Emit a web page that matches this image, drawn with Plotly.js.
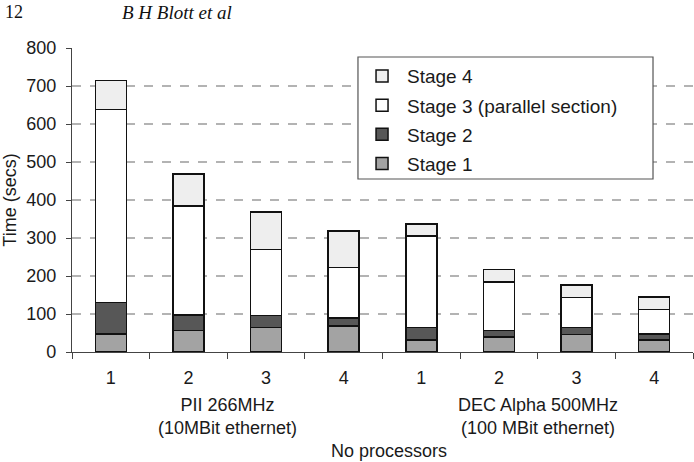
<!DOCTYPE html>
<html>
<head>
<meta charset="utf-8">
<script src="https://cdn.plot.ly/plotly-3.0.1.min.js"></script>
<style>
  html, body { margin: 0; padding: 0; background: #fff; }
  #chart { width: 694px; height: 462px; }
</style>
</head>
<body>
<div id="chart"></div>
<script>
// Run keys: machine + processor count (unique), labels shown on the axis
const runs = ["PII-1", "PII-2", "PII-3", "PII-4", "DEC-1", "DEC-2", "DEC-3", "DEC-4"];
const procLabels = ["1", "2", "3", "4", "1", "2", "3", "4"];

// Time per stage (secs)
const stage1 = [48, 56, 65, 69, 31, 40, 46, 32];
const stage2 = [82, 41, 31, 20, 33, 17, 18, 16];
const stage3 = [508, 287, 174, 133, 241, 127, 80, 64];
const stage4 = [76, 84, 99, 96, 32, 33, 32, 33];

const stageNames = ["Stage 1", "Stage 2", "Stage 3 (parallel section)", "Stage 4"];
const stageColors = ["#a3a3a3", "#575757", "#ffffff", "#eeeeee"];

const machineGroups = ["PII 266MHz<br>(10MBit ethernet)", "DEC Alpha 500MHz<br>(100 MBit ethernet)"];
const groupCenters = [1.5, 5.5];

const baseFont = "'Liberation Sans', Arial, sans-serif";

const series = [stage1, stage2, stage3, stage4];
const traces = series.map((vals, i) => ({
  type: "bar",
  x: runs,
  y: vals,
  name: stageNames[i],
  legendgroup: "g" + i,
  legendrank: series.length - i,   // top stage listed first
  marker: { color: stageColors[i], line: { color: "#111", width: 1.5 } },
  width: 0.4,
  hoverinfo: "y+name"
}));

const annotations = machineGroups.map((t, i) => ({
  text: t,
  xref: "x", yref: "paper",
  x: groupCenters[i], y: 0,
  yshift: -41, yanchor: "top",
  showarrow: false,
  font: { family: baseFont, size: 18, color: "#1a1a1a" },
  align: "center"
}));

annotations.push({
  text: "No processors",
  xref: "paper", yref: "paper",
  x: 0.51, y: 0, yshift: -87, yanchor: "top",
  showarrow: false,
  font: { family: baseFont, size: 18, color: "#1a1a1a" }
});

// Running page header
annotations.push({
  text: "12",
  xref: "paper", yref: "paper",
  x: 0, xshift: -69, xanchor: "left",
  y: 1, yshift: 36, yanchor: "middle",
  showarrow: false,
  font: { family: "'Liberation Serif', 'Times New Roman', serif", size: 18, color: "#111" }
});
annotations.push({
  text: "<i>B H Blott et al</i>",
  xref: "paper", yref: "paper",
  x: 0, xshift: 48, xanchor: "left",
  y: 1, yshift: 36, yanchor: "middle",
  showarrow: false,
  font: { family: "'Liberation Serif', 'Times New Roman', serif", size: 19, color: "#111" }
});

// Frame drawn round the legend (wider than Plotly's own legend box)
const legendFrame = {
  type: "rect", layer: "above",
  xref: "paper", yref: "paper",
  x0: 0.4605, x1: 0.9356, y0: 0.569, y1: 0.9704,
  line: { color: "#555", width: 1.2 },
  fillcolor: "#fff"
};

const layout = {
  width: 694,
  height: 462,
  margin: { l: 72, r: 1, t: 48, b: 110 },
  paper_bgcolor: "#fff",
  plot_bgcolor: "#fff",
  barmode: "stack",
  font: { family: baseFont, size: 18, color: "#1a1a1a" },
  showlegend: true,
  legend: {
    x: 0.459, xanchor: "left",
    y: 0.97, yanchor: "top",
    traceorder: "grouped",
    bgcolor: "rgba(0,0,0,0)",
    borderwidth: 0,
    tracegroupgap: 1.5,
    itemwidth: 40,
    font: { family: baseFont, size: 19, color: "#1a1a1a" }
  },
  shapes: [legendFrame],
  xaxis: {
    type: "category",
    tickmode: "array",
    tickvals: runs,
    ticktext: procLabels,
    tickson: "boundaries",
    ticks: "outside",
    ticklen: 6,
    tickcolor: "#444",
    ticklabelstandoff: 9,
    showline: true,
    linecolor: "#444",
    linewidth: 1.2,
    showgrid: false,
    tickfont: { family: baseFont, size: 18, color: "#1a1a1a" }
  },
  yaxis: {
    range: [0, 800],
    dtick: 100,
    ticks: "outside",
    ticklen: 5,
    tickcolor: "#444",
    ticklabelstandoff: 6,
    showline: true,
    linecolor: "#444",
    linewidth: 1.2,
    showgrid: true,
    gridcolor: "#b3b3b3",
    gridwidth: 1.5,
    griddash: "dash",
    zeroline: false,
    title: { text: "Time (secs)", standoff: 12, font: { family: baseFont, size: 18, color: "#1a1a1a" } },
    tickfont: { family: baseFont, size: 18, color: "#1a1a1a" }
  },
  annotations: annotations
};

Plotly.newPlot("chart", traces, layout, { displayModeBar: false, staticPlot: true });
</script>
</body>
</html>
